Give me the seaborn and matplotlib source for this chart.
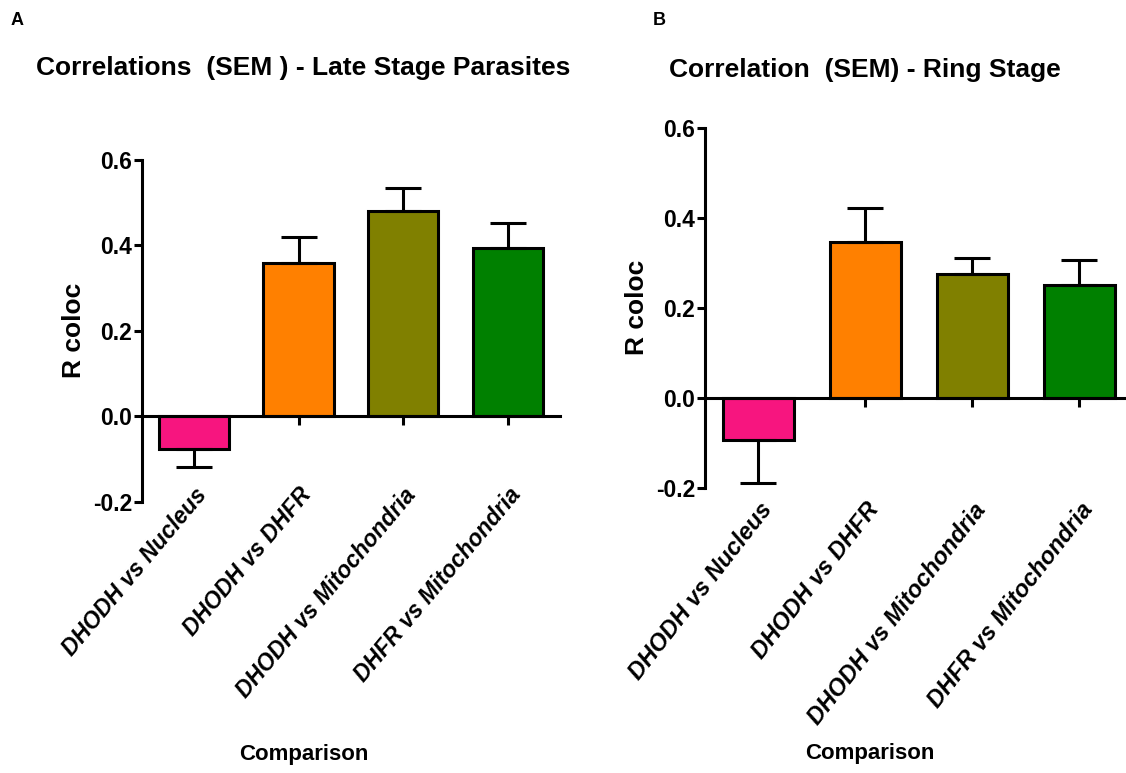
import numpy as np
import pandas as pd
import matplotlib
matplotlib.use("Agg")
import matplotlib.pyplot as plt
import matplotlib.ticker as mticker
import seaborn as sns

# data
comparisons = ["DHODH vs Nucleus", "DHODH vs DHFR", "DHODH vs Mitochondria", "DHFR vs Mitochondria"]
bar_colors = ["#F7157F", "#FF8000", "#808000", "#008000"]

# A - late stage parasites
late_r = [-0.076, 0.360, 0.480, 0.395]
late_sem = [0.043, 0.060, 0.054, 0.058]

# B - ring stage
ring_r = [-0.093, 0.347, 0.275, 0.251]
ring_sem = [0.096, 0.076, 0.037, 0.055]

y_ticks = [-0.2, 0.0, 0.2, 0.4, 0.6]

sns.set_theme(style="ticks")
plt.rcParams["font.family"] = ["Liberation Sans", "DejaVu Sans"]
plt.rcParams["axes.unicode_minus"] = False
plt.rcParams["text.color"] = "black"
plt.rcParams["axes.labelcolor"] = "black"
plt.rcParams["axes.titlecolor"] = "black"

fig = plt.figure(figsize=(11.26, 7.73), dpi=100)
axA = fig.add_axes([0.1258, 0.351, 0.3715, 0.442])
axB = fig.add_axes([0.6261, 0.369, 0.380, 0.465])


def draw_panel(ax, vals, sems, title, title_x, title_y, ylab_xy, xlab_xy, rot, xfs, pad):
    df = pd.DataFrame({"Comparison": comparisons, "R coloc": vals})
    sns.barplot(data=df, x="Comparison", y="R coloc", hue="Comparison",
                palette=bar_colors, saturation=1, width=0.67, errorbar=None,
                edgecolor="black", linewidth=2.2, legend=False, ax=ax)
    # SEM only on the side away from zero
    vals = np.array(vals)
    sems = np.array(sems)
    lower = np.where(vals < 0, sems, 0)
    upper = np.where(vals >= 0, sems, 0)
    ax.errorbar(np.arange(len(vals)), vals, yerr=[lower, upper], fmt="none",
                ecolor="black", elinewidth=2.2, capsize=13, capthick=2.2, zorder=3)

    ax.set_xlim(-0.5, 3.5)
    ax.set_ylim(-0.2, 0.6)
    sns.despine(ax=ax)
    ax.spines["bottom"].set_position(("data", 0))
    ax.spines["left"].set_linewidth(2.2)
    ax.spines["bottom"].set_linewidth(2.2)
    ax.spines["left"].set_color("black")
    ax.spines["bottom"].set_color("black")

    ax.set_yticks(y_ticks)
    ax.yaxis.set_major_formatter(mticker.FormatStrFormatter("%.1f"))
    ax.tick_params(axis="y", direction="out", length=6, width=2.2, pad=1,
                   labelsize=16.5, colors="black")
    for lab in ax.get_yticklabels():
        lab.set_fontweight("bold")

    ax.set_xticks(range(len(comparisons)))
    ax.set_xticklabels(comparisons, rotation=rot, ha="right", va="top",
                       rotation_mode="anchor", fontsize=xfs,
                       fontweight="bold", fontstyle="italic")
    ax.tick_params(axis="x", direction="out", length=6.5, width=2.2, pad=pad,
                   colors="black")

    ax.set_ylabel("R coloc", fontsize=19, fontweight="bold", va="center")
    ax.yaxis.set_label_coords(*ylab_xy)
    ax.set_xlabel("Comparison", fontsize=16, fontweight="bold", va="center")
    ax.xaxis.set_label_coords(*xlab_xy)
    ax.set_title(title, fontsize=19, fontweight="bold", x=title_x, y=title_y)


draw_panel(axA, late_r, late_sem, "Correlations  (SEM ) - Late Stage Parasites",
           0.386, 1.225, (-0.162, 0.5025), (0.388, -0.741), 50, 16.5, 42)
draw_panel(axB, ring_r, ring_sem, "Correlation  (SEM) - Ring Stage",
           0.374, 1.1205, (-0.159, 0.503), (0.386, -0.738), 52, 17, 66)

fig.text(11 / 1126, 1 - 25 / 773, "A", fontsize=13, fontweight="bold", va="baseline")
fig.text(653 / 1126, 1 - 25 / 773, "B", fontsize=13, fontweight="bold", va="baseline")

fig.savefig("out.png", dpi=100)
